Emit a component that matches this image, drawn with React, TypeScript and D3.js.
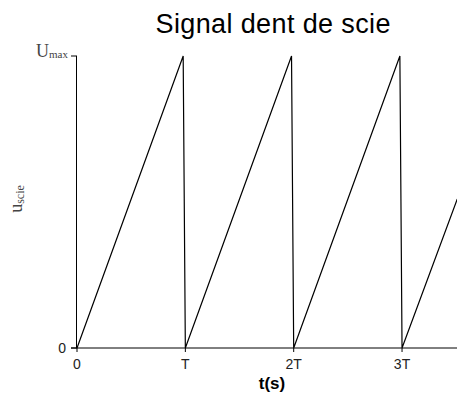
import React from "react";
import * as d3 from "d3";

const tValues = [0, 0.98, 1, 1.98, 2, 2.98, 3, 3.51];
const uValues = [0, 1, 0, 1, 0, 1, 0, 0.51];
const xTickValues = [0, 1, 2, 3];
const xTickLabels = ["0", "T", "2T", "3T"];
const title = "Signal dent de scie";

export default function App() {
  const W = 457, H = 394;
  const x = d3.scaleLinear().domain([0, 3.51]).range([77, 457.3]);
  const y = d3.scaleLinear().domain([0, 1]).range([348, 56]);
  const line = d3.line<number>().x((_, i) => x(tValues[i])).y((d) => y(d));
  const path = line(uValues) || "";
  return (
    <svg width={W} height={H} style={{ position: "absolute", left: 0, top: 0, background: "#fff" }}>
      <text x={273} y={33} textAnchor="middle" fontFamily="Liberation Sans, Arial, sans-serif" fontSize={27} fill="#000" textLength={235} lengthAdjust="spacing">{title}</text>
      {/* y axis */}
      <line x1={x(0) - 0.5} x2={x(0) - 0.5} y1={y(1)} y2={y(0)} stroke="#000" strokeWidth={1} />
      <line x1={71} x2={x(0)} y1={y(1)} y2={y(1)} stroke="#000" strokeWidth={1} />
      <line x1={71} x2={x(0)} y1={y(0)} y2={y(0)} stroke="#000" strokeWidth={1} />
      <text x={68} y={y(1) + 1} textAnchor="end" fontFamily="Liberation Serif, Times New Roman, serif" fontSize={18} fill="#444">
        U<tspan fontSize={11} dy={1}>max</tspan>
      </text>
      <text x={66} y={y(0) + 5} textAnchor="end" fontFamily="Liberation Sans, Arial, sans-serif" fontSize={14} fill="#222">0</text>
      <text transform={`translate(22,199) rotate(-90)`} textAnchor="middle" fontFamily="Liberation Serif, Times New Roman, serif" fontSize={18} fill="#444">
        u<tspan fontSize={12} dy={2}>scie</tspan>
      </text>
      {/* x axis */}
      <line x1={71} x2={W} y1={y(0)} y2={y(0)} stroke="#000" strokeWidth={1} />
      {xTickValues.map((v, i) => (
        <g key={v}>
          <line x1={x(v)} x2={x(v)} y1={y(0)} y2={y(0) + 4} stroke="#000" />
          <text x={x(v)} y={y(0) + 21} textAnchor="middle" fontFamily="Liberation Sans, Arial, sans-serif" fontSize={14} fill="#222">{xTickLabels[i]}</text>
        </g>
      ))}
      <text x={272} y={389} textAnchor="middle" fontFamily="Liberation Sans, Arial, sans-serif" fontSize={17} fontWeight="bold" fill="#000">t(s)</text>
      <path d={path} fill="none" stroke="#000" strokeWidth={1.2} />
    </svg>
  );
}
